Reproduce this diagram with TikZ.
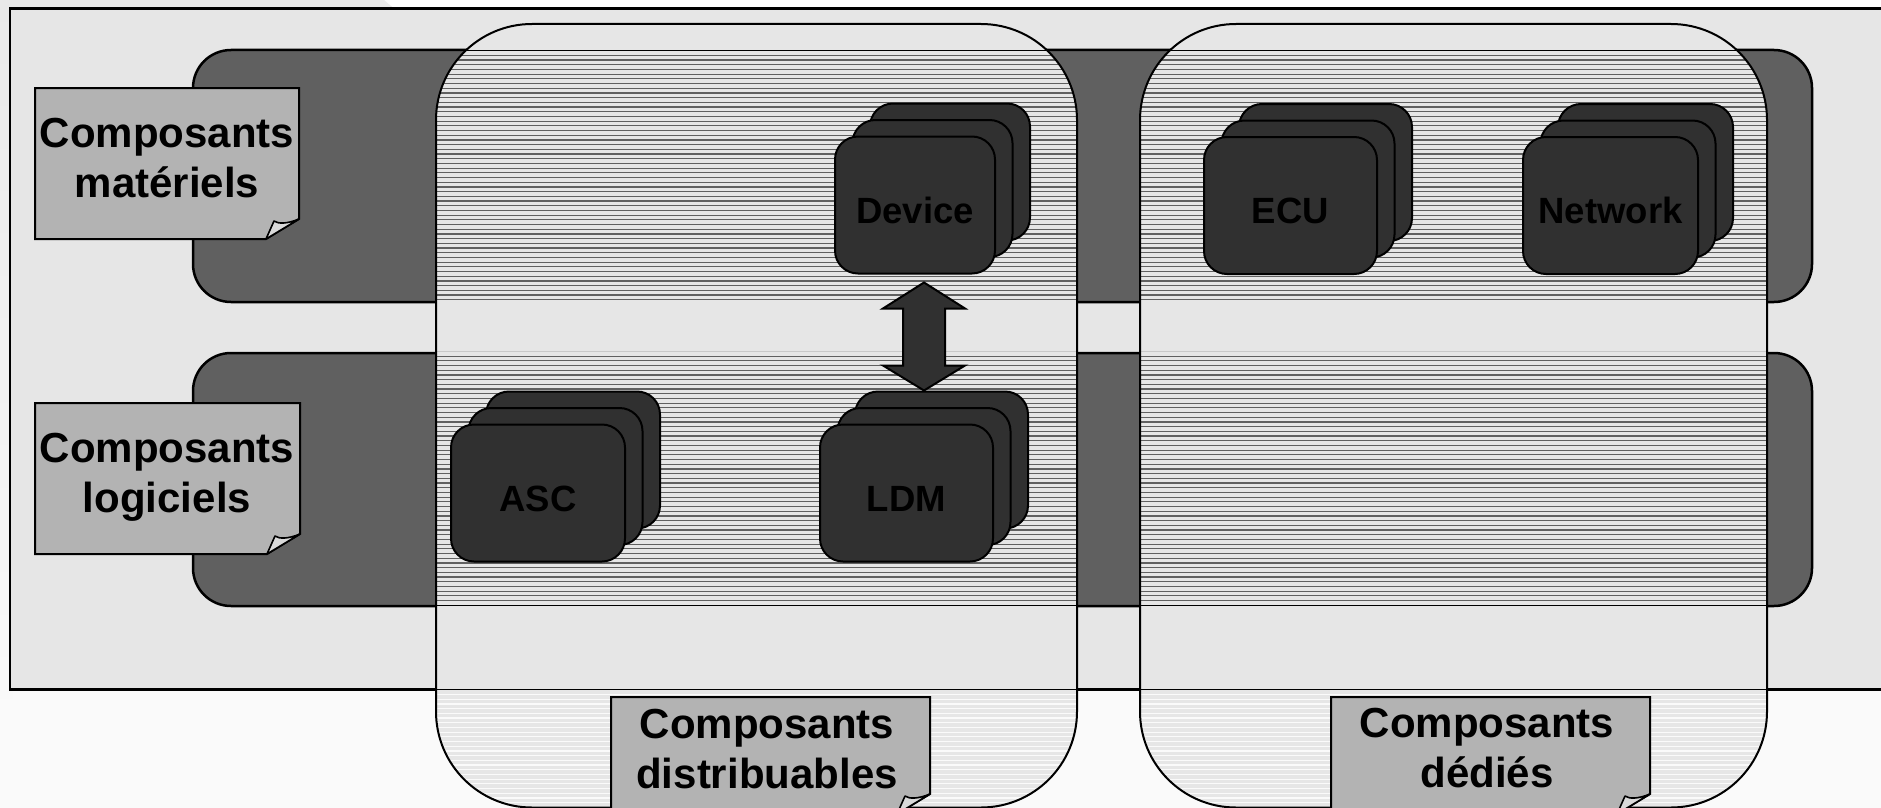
\documentclass[tikz,border=0pt]{standalone}
\usepackage{fontspec}
\setmainfont{Liberation Sans}
\usetikzlibrary{patterns,calc}

\definecolor{page}{HTML}{FAFAFA}
\definecolor{edgegray}{HTML}{E9E9E9}
\definecolor{panel}{HTML}{E6E6E6}
\definecolor{band}{HTML}{606060}
\definecolor{cardfill}{HTML}{303030}
\definecolor{notefill}{HTML}{B3B3B3}
\definecolor{curlfill}{HTML}{DADADA}

% light opaque stripes with thin transparent gaps
\pgfdeclarepatternformonly{hstripes}{\pgfqpoint{-1pt}{0pt}}{\pgfqpoint{11pt}{4.7pt}}{\pgfqpoint{10pt}{4.7pt}}{%
  \pgfpathrectangle{\pgfqpoint{-1pt}{1.2pt}}{\pgfqpoint{12pt}{3.5pt}}%
  \pgfusepath{fill}}

\tikzset{
  frame/.style={draw=black, line width=2.5pt, fill=panel},
  layer/.style={draw=black, line width=2.5pt, fill=band, rounded corners=38pt},
  column/.style={draw=black, line width=2pt, pattern=hstripes, pattern color=panel, rounded corners=96pt},
  card/.style={draw=black, line width=2pt, fill=cardfill, rounded corners=23pt,
    minimum height=137, inner sep=0pt, text height=36, text depth=0,
    font=\fontsize{36.5}{44}\selectfont\bfseries, text=black},
  notebox/.style={draw=black, line width=2pt, fill=notefill, line join=miter},
  curl/.style={draw=black, line width=1.6pt, fill=curlfill, line join=round},
  notetext/.style={inner sep=0pt, anchor=base, font=\fontsize{42}{50}\selectfont\bfseries},
  blockarrow/.style={draw=black, line width=2pt, fill=cardfill, line join=miter}
}

% three stacked cards: name, centre x, centre y, width, label
\newcommand\cardstack[5]{%
  \node[card, minimum width=#4] (#1-3) at (#2+35,#3-33) {};
  \node[card, minimum width=#4] (#1-2) at (#2+17.5,#3-16.5) {};
  \node[card, minimum width=#4] (#1) at (#2,#3) {#5};
}

% sheet of paper with a curled lower right corner: x1 y1 x2 y2
\newcommand\notepaper[4]{%
  \draw[notebox] (#1,#2) -- (#3,#2) -- (#3,#4-20) -- (#3-33,#4) -- (#1,#4) -- cycle;
  \draw[curl] (#3-33,#4) -- (#3-25,#4-18) .. controls (#3-21,#4-15) and (#3-12,#4-15) .. (#3,#4-20) -- cycle;
}

\begin{document}
\begin{tikzpicture}[x=1pt, y=-1pt]
\useasboundingbox (0,0) rectangle (1881,808);
\clip (0,0) rectangle (1881,808);

% page background
\fill[page] (0,0) rectangle (1881,808);
\fill[white] (390,0) rectangle (1881,12);
\fill[edgegray] (0,0) -- (384,0) -- (398,12) -- (0,12) -- cycle;
\shade[top color=edgegray, bottom color=page] (0,0) rectangle (12,720);

% outer panel
\draw[frame] (10,8.5) rectangle (1900,689.5);

% hardware and software layers
\draw[layer] (193,50) rectangle (1812,302);
\draw[layer] (193,353) rectangle (1812,606);

% distributable and dedicated columns
\draw[column] (436,24) rectangle (1077,807.5);
\draw[column] (1140,24) rectangle (1767,807.5);

% components
\cardstack{device}{915}{205}{160}{Device}
\cardstack{ecu}{1290.5}{205.5}{173}{ECU}
\cardstack{network}{1610.5}{205.5}{175}{Network}
\cardstack{asc}{538}{493}{174}{ASC}
\cardstack{ldm}{906.5}{493}{173}{LDM}

% two-way link between Device and LDM
\coordinate (arrTop) at ($(device.south)+(9,8)$);
\coordinate (arrBot) at (arrTop |- ldm-3.north);
\draw[blockarrow] (arrTop) -- ++(41,26) -- ++(-20,0) -- ($(arrBot)+(21,-25)$) -- ++(20,0)
  -- (arrBot) -- ++(-41,-25) -- ++(20,0) -- ($(arrTop)+(-21,26)$) -- ++(-20,0) -- cycle;

% captions
\notepaper{35}{88}{299}{239}
\node[notetext] (hwlabel) at (167,147) {\begin{tabular}[t]{@{}c@{}}Composants\\matériels\end{tabular}};

\notepaper{35}{403}{300}{554}
\node[notetext] (swlabel) at (167,462) {\begin{tabular}[t]{@{}c@{}}Composants\\logiciels\end{tabular}};

\notepaper{611}{697}{930}{814}
\node[notetext] (distlabel) at (767,738) {\begin{tabular}[t]{@{}c@{}}Composants\\distribuables\end{tabular}};

\notepaper{1331}{697}{1650}{814}
\node[notetext] (dedlabel) at (1487,737) {\begin{tabular}[t]{@{}c@{}}Composants\\dédiés\end{tabular}};
\end{tikzpicture}
\end{document}
